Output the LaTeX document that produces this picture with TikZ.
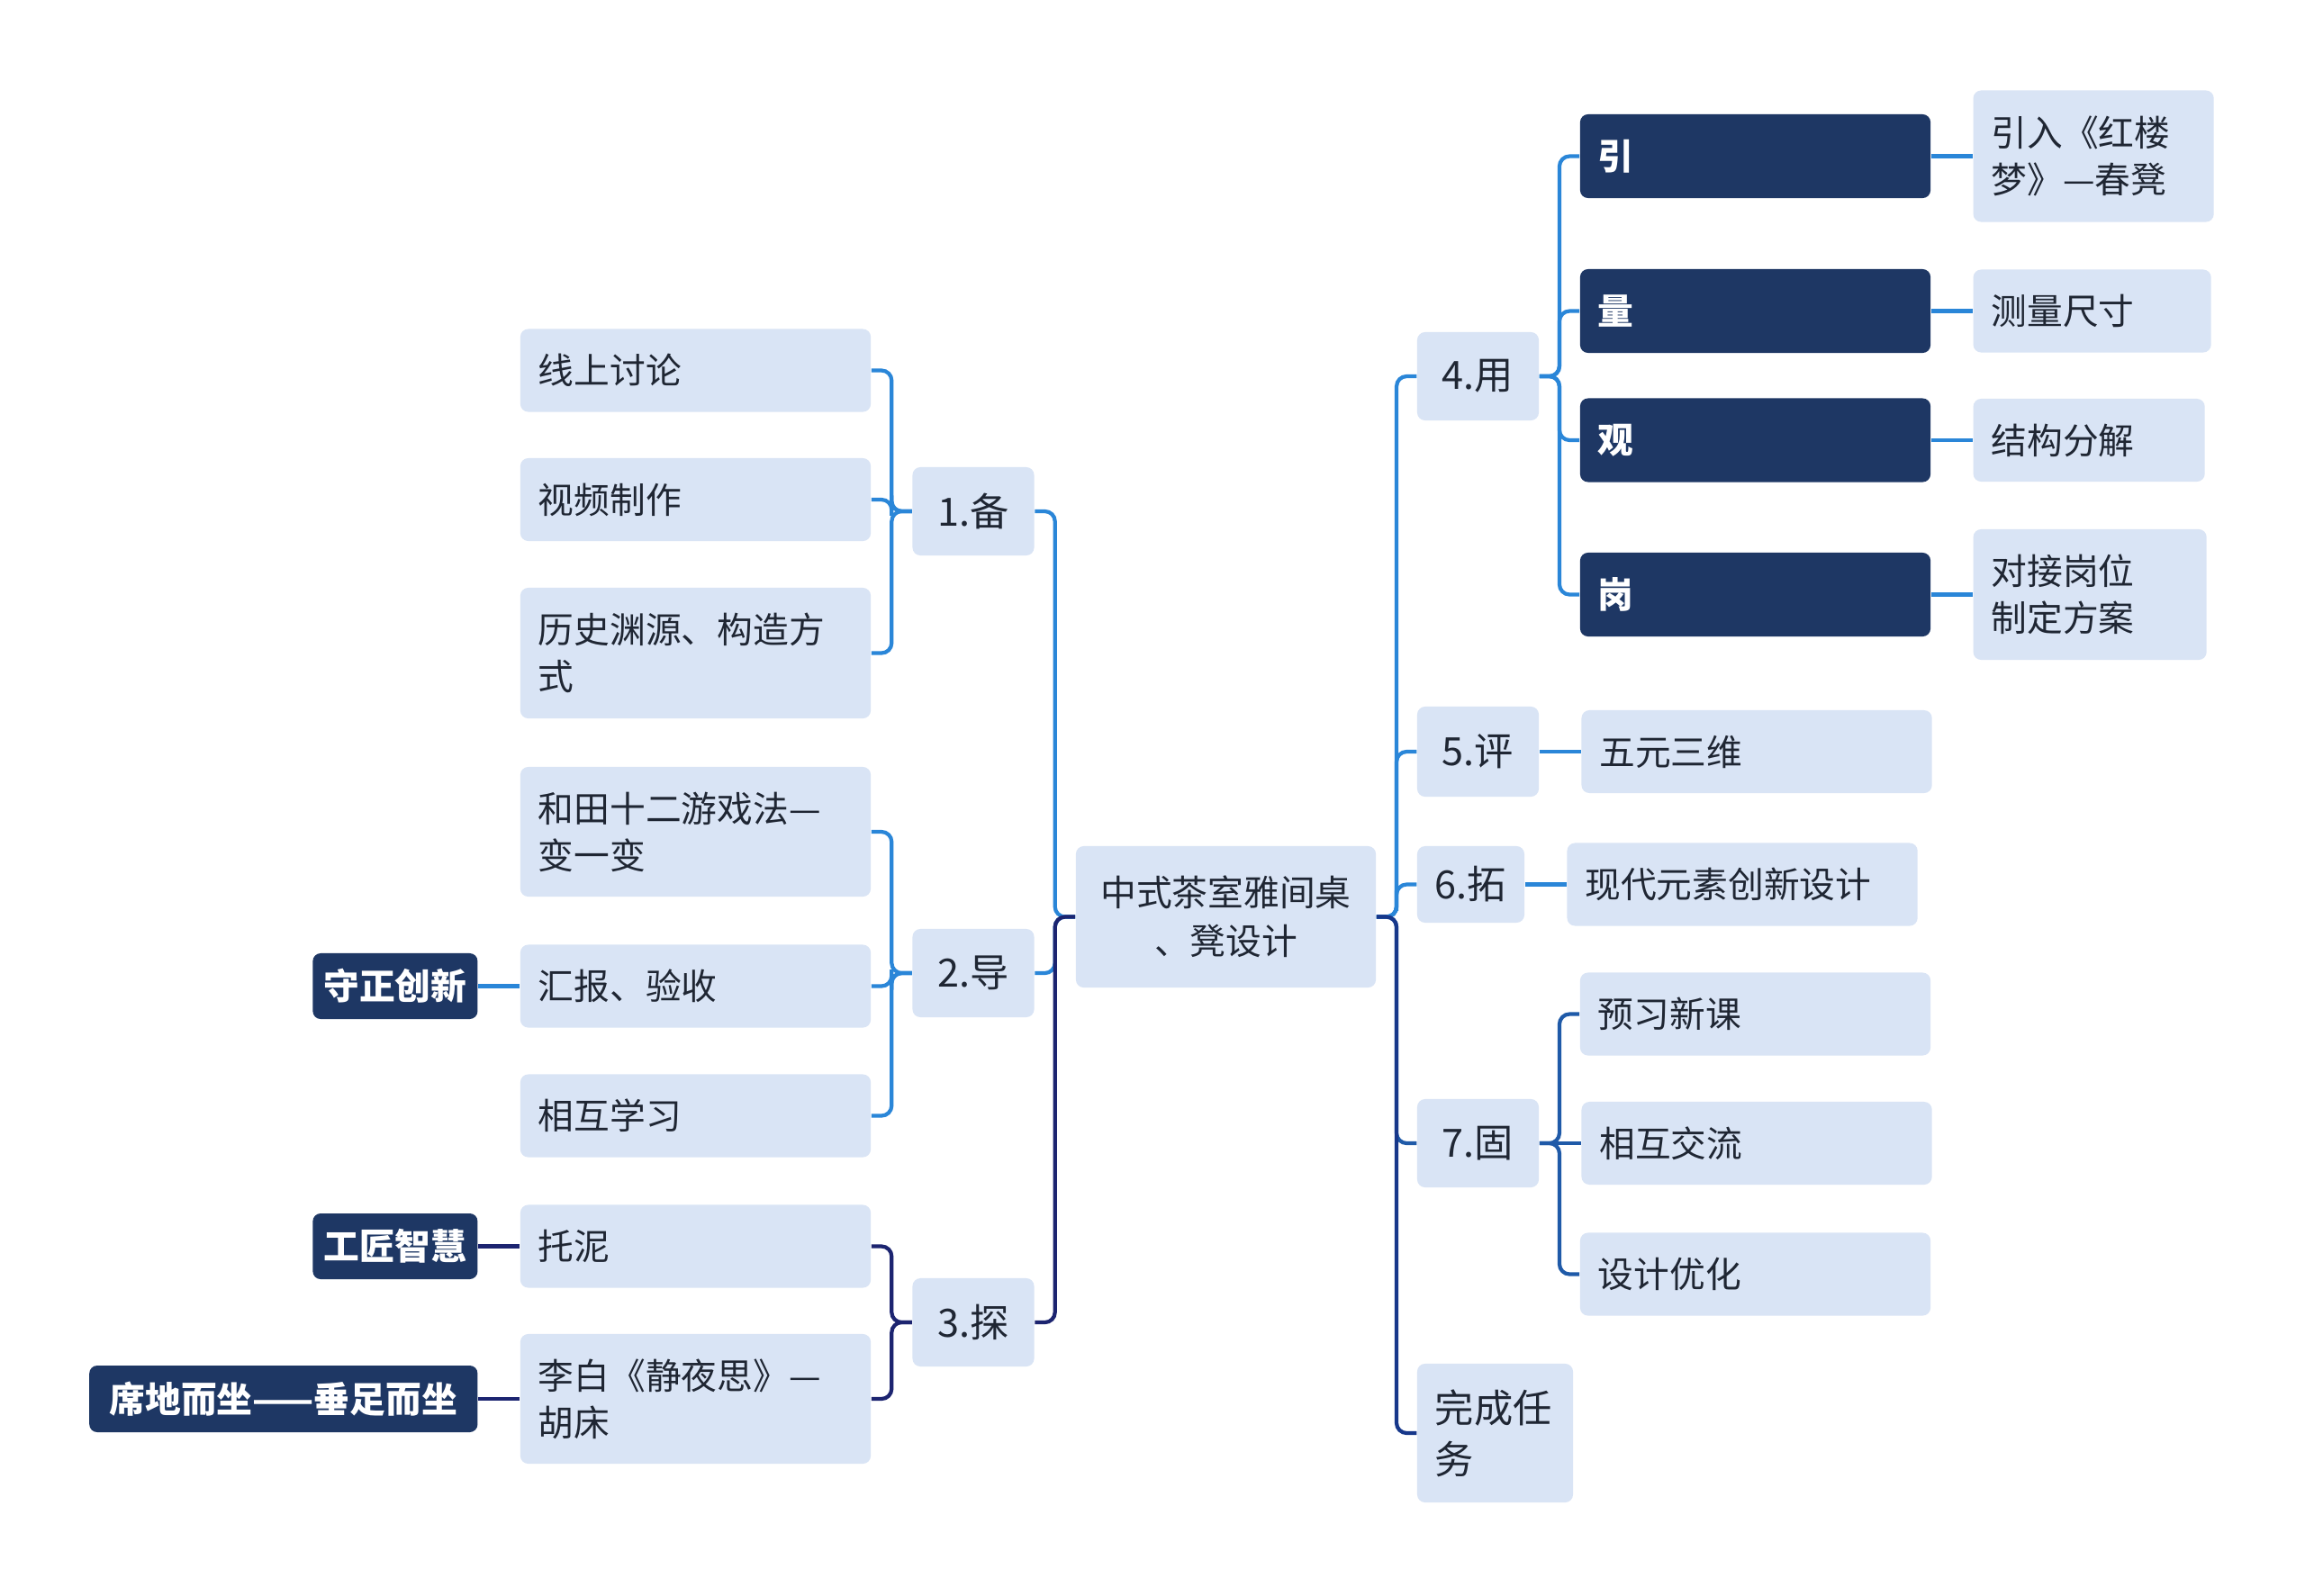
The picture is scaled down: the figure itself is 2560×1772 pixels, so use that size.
\documentclass[tikz,border=0pt]{standalone}
\usepackage{fontspec}
\setmainfont{Noto Sans CJK SC}
\usetikzlibrary{positioning, calc}

\definecolor{leafbg}{HTML}{D9E4F5}
\definecolor{darkbg}{HTML}{1E3764}
\definecolor{txt}{HTML}{1F2633}
\definecolor{bluebr}{HTML}{2A86D8}
\definecolor{navybr}{HTML}{1C2470}
\definecolor{midbr}{HTML}{1F5AA8}
\definecolor{deepbr}{HTML}{17378A}

\tikzset{
  box/.style={rectangle, rounded corners=2.5pt, fill=leafbg, text=txt, inner sep=0pt,
    font=\fontsize{11.3}{14.8}\selectfont},
  topic/.style={box, font=\fontsize{12.3}{16}\selectfont, align=center,
    minimum width=1.35cm, minimum height=0.98cm},
  leaf/.style={box, align=left, minimum width=3.89cm, text width=3.49cm, minimum height=0.92cm},
  tag/.style={box, fill=darkbg, text=white, font=\fontsize{11.3}{14.8}\selectfont\bfseries},
  stage/.style={tag, align=left, text width=3.49cm, minimum width=3.89cm, minimum height=0.93cm},
  conn/.style={line width=1.2pt, rounded corners=3.2pt},
  fork/.style={to path={(\tikztostart) -| ($(\tikztostart)!.5!(\tikztotarget)$) |- (\tikztotarget)}}
}

\begin{document}
\begin{tikzpicture}[x=0.01cm, y=-0.01cm]
    \fill[white] (0,0) rectangle (2560,1772);
    \useasboundingbox (0,0) rectangle (2560,1772);

    % centre
    \node[box, align=center, minimum width=3.33cm, minimum height=1.57cm,
      font=\fontsize{11.3}{15.3}\selectfont] (root) at (1361.5,1018.5) {中式茶室雅间桌\\、凳设计};

    % left side
    \node[topic] (bei) at (1081,568) {1.备};
    \node[topic] (dao) at (1081,1081) {2.导};
    \node[topic] (tan) at (1081,1469) {3.探};

    \node[leaf] (xianshang) at (772.5,411.5) {线上讨论};
    \node[leaf] (shipin) at (772.5,555) {视频制作};
    \node[leaf, minimum height=1.45cm] (lishi) at (772.5,725.5) {历史渊源、构造方\\式};
    \node[leaf, minimum height=1.44cm] (hetian) at (772.5,924) {和田十二游戏法—\\变一变};
    \node[leaf] (huibao) at (772.5,1095.5) {汇报、验收};
    \node[leaf] (huxue) at (772.5,1239.5) {相互学习};
    \node[leaf] (tuoni) at (772.5,1384.5) {托泥};
    \node[leaf, minimum height=1.44cm] (libai) at (772.5,1554) {李白《静夜思》—\\胡床};

    \node[tag, minimum width=1.83cm, minimum height=0.73cm, left=0.46cm of huibao] (shouzheng) {守正创新};
    \node[tag, minimum width=1.83cm, minimum height=0.73cm, left=0.46cm of tuoni] (gongjiang) {工匠智慧};
    \node[tag, minimum width=4.31cm, minimum height=0.74cm, left=0.46cm of libai] (xidi) {席地而坐——垂足而坐};

    % right side
    \node[topic] (yong) at (1641.5,418) {4.用};
    \node[topic, minimum height=1.0cm] (ping) at (1641.5,835) {5.评};
    \node[topic, minimum width=1.19cm, minimum height=0.85cm] (tuo) at (1633.5,982.5) {6.拓};
    \node[topic] (gu) at (1641.5,1270) {7.固};
    \node[box, font=\fontsize{12.3}{16.2}\selectfont, align=left, text width=1.33cm,
      minimum width=1.73cm, minimum height=1.54cm] (wancheng) at (1660.5,1592) {完成任\\务};

    \node[stage] (yin) at (1949.5,173.5) {引};
    \node[stage] (liang) at (1949.5,345.5) {量};
    \node[stage] (guan) at (1949.5,489) {观};
    \node[stage] (gang) at (1949.5,660.5) {岗};

    \node[leaf, text width=2.27cm, minimum width=2.67cm, minimum height=1.46cm, right=0.46cm of yin] (hongloumeng) {引入《红楼\\梦》—春凳};
    \node[leaf, text width=2.24cm, minimum width=2.64cm, right=0.46cm of liang] (celiang) {测量尺寸};
    \node[leaf, text width=2.17cm, minimum width=2.57cm, right=0.46cm of guan] (jiegou) {结构分解};
    \node[leaf, text width=2.19cm, minimum width=2.59cm, minimum height=1.45cm, right=0.46cm of gang] (duijie) {对接岗位\\制定方案};

    \node[leaf, right=0.46cm of ping] (wuyuan) {五元三维};
    \node[leaf, right=0.46cm of tuo] (xiandai) {现代元素创新设计};
    \node[leaf] (yuxi) at (1949.5,1126.5) {预习新课};
    \node[leaf, right=0.46cm of gu] (jiaoliu) {相互交流};
    \node[leaf] (youhua) at (1949.5,1415.5) {设计优化};

    % connectors
    \path[conn, draw=bluebr]
      (root.west) edge[fork] (bei.east)
      (root.west) edge[fork] (dao.east)
      (bei.west) edge[fork] (xianshang.east)
      (bei.west) edge[fork] (shipin.east)
      (bei.west) edge[fork] (lishi.east)
      (dao.west) edge[fork] (hetian.east)
      (dao.west) edge[fork] (huibao.east)
      (dao.west) edge[fork] (huxue.east)
      (shouzheng) edge (huibao);
    \path[conn, draw=navybr]
      (root.west) edge[fork] (tan.east)
      (tan.west) edge[fork] (tuoni.east)
      (tan.west) edge[fork] (libai.east)
      (gongjiang) edge (tuoni)
      (xidi) edge (libai);

    \path[conn, draw=bluebr]
      (root.east) edge[fork] (yong.west)
      (root.east) edge[fork] (ping.west)
      (root.east) edge[fork] (tuo.west)
      (yong.east) edge[fork] (yin.west)
      (yong.east) edge[fork] (liang.west)
      (yong.east) edge[fork] (guan.west)
      (yong.east) edge[fork] (gang.west)
      (yin) edge (hongloumeng)
      (liang) edge (celiang)
      (guan) edge (jiegou)
      (gang) edge (duijie)
      (ping) edge (wuyuan)
      (tuo) edge (xiandai);
    \path[conn, draw=midbr]
      (root.east) edge[fork] (gu.west)
      (gu.east) edge[fork] (yuxi.west)
      (gu) edge (jiaoliu)
      (gu.east) edge[fork] (youhua.west);
    \path[conn, draw=deepbr]
      (root.east) edge[fork] (wancheng.west);
\end{tikzpicture}
\end{document}
